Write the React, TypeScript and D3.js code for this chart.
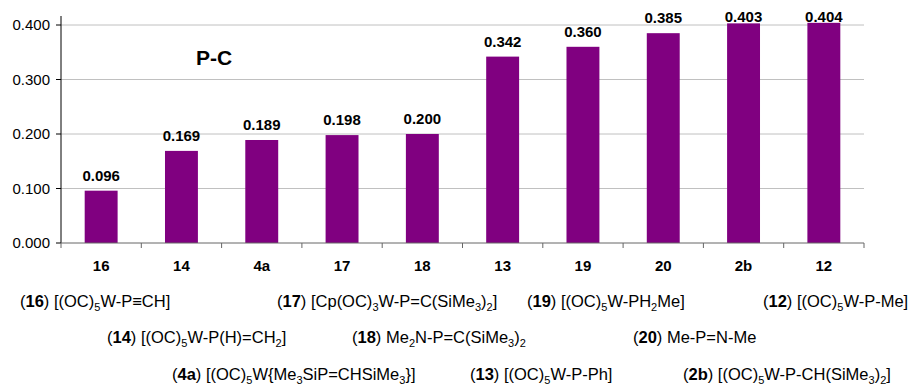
import React from "react";
import * as d3 from "d3";

// data
const categories = ["16", "14", "4a", "17", "18", "13", "19", "20", "2b", "12"];
const values = [0.096, 0.169, 0.189, 0.198, 0.2, 0.342, 0.36, 0.385, 0.403, 0.404];
const yTicks = [0, 0.1, 0.2, 0.3, 0.4];

// legend: compound id + formula ("_" marks a subscript)
const legendIds = ["16", "17", "19", "12", "14", "18", "20", "4a", "13", "2b"];
const legendFormulas = [
  "[(OC)_5W-P\u2261CH]",
  "[Cp(OC)_3W-P=C(SiMe_3)_2]",
  "[(OC)_5W-PH_2Me]",
  "[(OC)_5W-P-Me]",
  "[(OC)_5W-P(H)=CH_2]",
  "Me_2N-P=C(SiMe_3)_2",
  "Me-P=N-Me",
  "[(OC)_5W{Me_3SiP=CHSiMe_3}]",
  "[(OC)_5W-P-Ph]",
  "[(OC)_5W-P-CH(SiMe_3)_2]",
];

// layout of legend entries
const legendPos = [
  [20, 307], [277, 307], [527, 307], [763, 307],
  [107, 343], [352, 343], [633, 343],
  [172, 380], [470, 380], [683, 380],
];

const W = 918;
const H = 388;
const margin = { top: 25, right: 54, bottom: 145, left: 61 };
const font = "Arial, 'Liberation Sans', sans-serif";

function parseFormula(f: string) {
  const parts: { t: string; sub: boolean }[] = [];
  let i = 0;
  let buf = "";
  while (i < f.length) {
    if (f[i] === "_") {
      if (buf) parts.push({ t: buf, sub: false });
      buf = "";
      i++;
      let s = "";
      while (i < f.length && /\d/.test(f[i])) s += f[i++];
      parts.push({ t: s, sub: true });
    } else {
      buf += f[i++];
    }
  }
  if (buf) parts.push({ t: buf, sub: false });
  return parts;
}

export default function App() {
  const x0 = margin.left;
  const x1 = W - margin.right;
  const yBase = H - margin.bottom;

  const x = d3.scaleBand<string>().domain(categories).range([x0, x1]).paddingInner(0.59).paddingOuter(0.295);
  const band = d3.scaleBand<string>().domain(categories).range([x0, x1]);
  const y = d3.scaleLinear().domain([0, 0.4]).range([yBase, margin.top]);

  const tickXs = [...categories.map((c) => band(c) as number), x1];

  return (
    <svg width={W} height={H} style={{ position: "absolute", left: 0, top: 0, background: "#fff" }} fontFamily={font}>
      {/* grid */}
      {yTicks.filter((t) => t > 0).map((t) => (
        <line key={t} x1={x0} x2={x1} y1={y(t)} y2={y(t)} stroke="#c0c0c0" strokeWidth={1} />
      ))}

      {/* bars */}
      {categories.map((c, i) => (
        <rect key={c} x={x(c)} y={y(values[i])} width={x.bandwidth()} height={yBase - y(values[i])} fill="#800080" />
      ))}

      {/* value labels */}
      {categories.map((c, i) => (
        <text
          key={c}
          x={(x(c) as number) + x.bandwidth() / 2}
          y={Math.max(y(values[i]) - 10, 22)}
          textAnchor="middle"
          fontSize={15}
          fontWeight="bold"
        >
          {d3.format(".3f")(values[i])}
        </text>
      ))}

      {/* y axis */}
      <line x1={x0} x2={x0} y1={16} y2={yBase} stroke="#000" />
      {yTicks.map((t) => (
        <g key={t}>
          <line x1={x0 - 5} x2={x0} y1={y(t)} y2={y(t)} stroke="#000" />
          <text x={x0 - 11} y={y(t) + 5} textAnchor="end" fontSize={15}>
            {d3.format(".3f")(t)}
          </text>
        </g>
      ))}

      {/* x axis */}
      <line x1={x0} x2={x1} y1={yBase} y2={yBase} stroke="#666" />
      {tickXs.map((tx, i) => (
        <line key={i} x1={tx} x2={tx} y1={yBase} y2={yBase + 5} stroke="#666" />
      ))}
      {categories.map((c) => (
        <text key={c} x={(band(c) as number) + band.bandwidth() / 2} y={yBase + 28} textAnchor="middle" fontSize={15} fontWeight="bold">
          {c}
        </text>
      ))}

      {/* title */}
      <text x={196} y={65} fontSize={21} fontWeight="bold">
        P-C
      </text>

      {/* legend */}
      {legendIds.map((id, i) => (
        <text key={id} x={legendPos[i][0]} y={legendPos[i][1]} fontSize={16.5}>
          <tspan>(</tspan>
          <tspan fontWeight="bold">{id}</tspan>
          <tspan>) </tspan>
          {parseFormula(legendFormulas[i]).map((p, j) =>
            p.sub ? (
              <tspan key={j} fontSize={11} dy={4}>
                {p.t}
              </tspan>
            ) : (
              <tspan key={j} dy={j > 0 && parseFormula(legendFormulas[i])[j - 1].sub ? -4 : 0}>
                {p.t}
              </tspan>
            )
          )}
        </text>
      ))}
    </svg>
  );
}
